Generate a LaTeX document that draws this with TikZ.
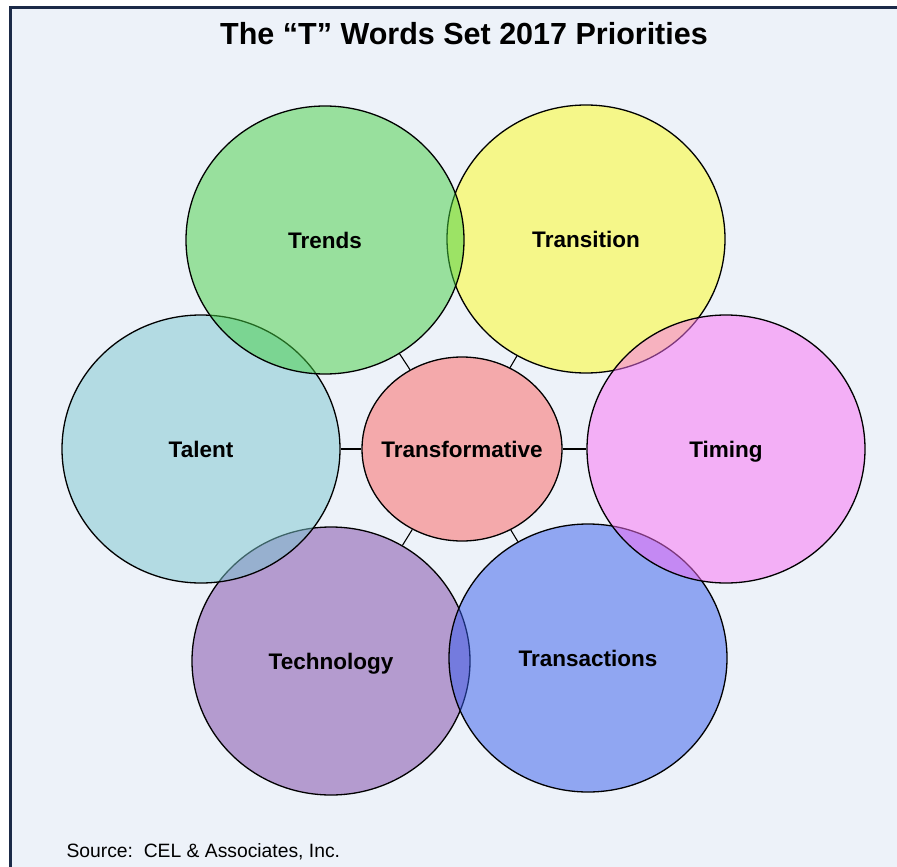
\documentclass[tikz,border=0pt]{standalone}
\usepackage{fontspec}
\setmainfont{Liberation Sans}
\usetikzlibrary{shapes.geometric}
\definecolor{panelbg}{RGB}{237,242,249}
\definecolor{panelframe}{RGB}{27,42,72}
\definecolor{trendsgreen}{RGB}{69,208,67}
\definecolor{transyellow}{RGB}{253,252,27}
\definecolor{timingpink}{RGB}{249,110,245}
\definecolor{transblue}{RGB}{53,92,237}
\definecolor{techpurple}{RGB}{125,70,167}
\definecolor{talentblue}{RGB}{123,198,207}
\definecolor{hubred}{RGB}{244,169,171}
\begin{document}
\begin{tikzpicture}[x=1pt,y=-1pt]
    \tikzstyle{tword}=[ellipse, draw=black, line width=1.3pt, minimum width=278pt, minimum height=268pt, inner sep=0pt, text height=16pt, text depth=0pt, fill opacity=.5, text opacity=1, font=\fontsize{22.5}{27}\selectfont\bfseries]
    \tikzstyle{hub}=[tword, fill opacity=1, inner xsep=-15pt, minimum width=200pt, minimum height=184pt]
    \tikzstyle{spoke}=[draw=black, line width=1.1pt]

    \useasboundingbox (0,0) rectangle (897,867);
    \fill[white] (0,0) rectangle (897,867);
    \draw[panelframe, line width=3.2pt, fill=panelbg] (10.5,7.5) rectangle (920,890);

    \node [anchor=base, font=\fontsize{30.5}{36}\selectfont\bfseries] (title) at (464,45) {The “T” Words Set 2017 Priorities};

    \node [tword, fill=techpurple] (technology) at (331,661) {Technology};
    \node [tword, fill=transblue] (transactions) at (588,658) {Transactions};
    \node [tword, fill=transyellow] (transition) at (586,239) {Transition};
    \node [tword, fill=timingpink] (timing) at (726,449) {Timing};
    \node [tword, fill=talentblue] (talent) at (201,449) {Talent};
    \node [tword, fill=trendsgreen] (trends) at (325,240) {Trends};
    \node [hub, fill=hubred] (transformative) at (462,449) {Transformative};

    \foreach \t in {trends, transition, timing, transactions, technology, talent}
        \draw [spoke] (transformative) -- (\t);

    \node [anchor=base west, font=\fontsize{19.3}{23}\selectfont] (source) at (63,857) {Source:\ \ CEL \& Associates, Inc.};
\end{tikzpicture}
\end{document}
